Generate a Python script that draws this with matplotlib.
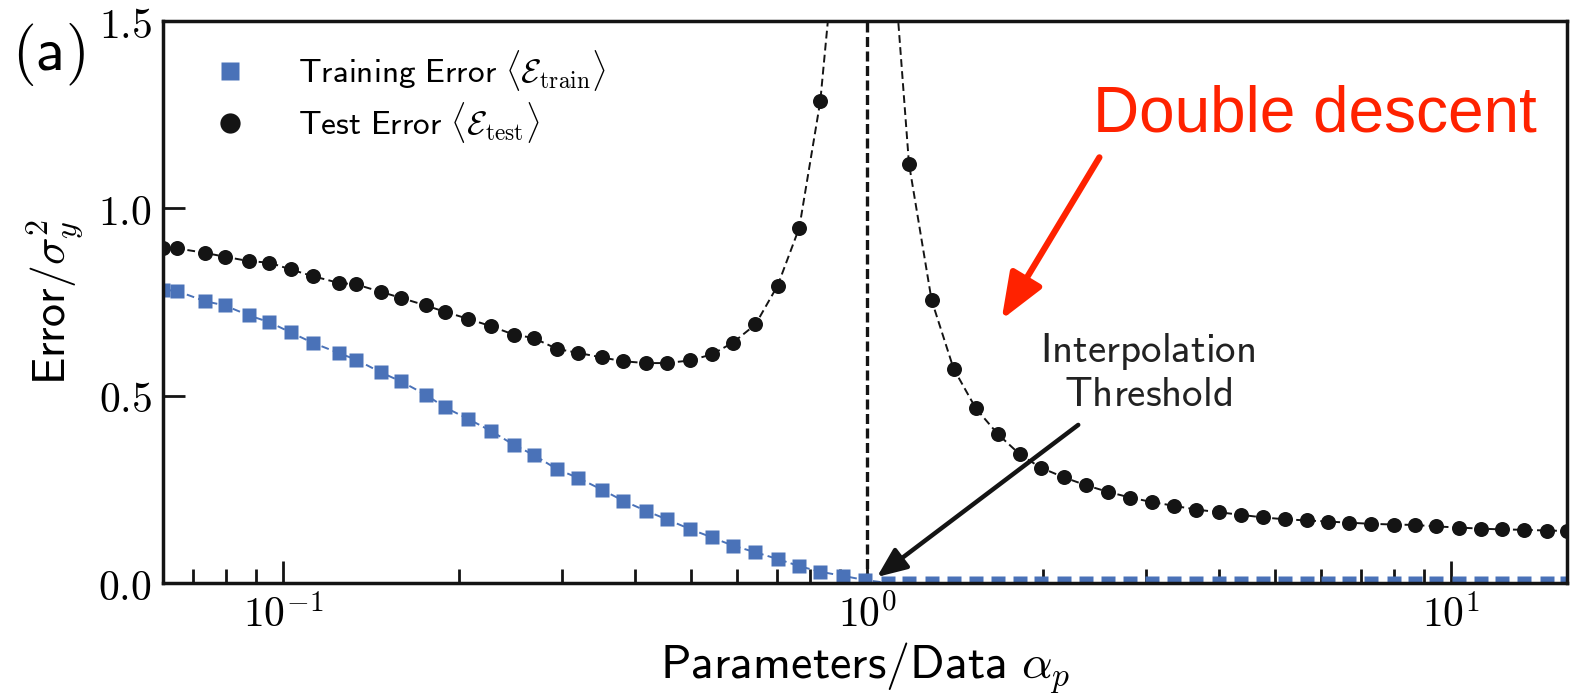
import matplotlib
matplotlib.use("Agg")
import matplotlib.pyplot as plt
from matplotlib.ticker import FixedLocator, FixedFormatter, LogLocator, NullFormatter

plt.rcParams['mathtext.fontset'] = 'cm'

# ---- data ----
test_left_alpha = [0.0624, 0.0659, 0.0736, 0.0794, 0.0875, 0.0948, 0.1030, 0.1125, 0.1245, 0.1334,
                   0.1472, 0.1592, 0.1754, 0.1892, 0.2075, 0.2275, 0.2483, 0.2685, 0.2944, 0.3206,
                   0.3516, 0.3819, 0.4178, 0.4539, 0.4977, 0.5420, 0.5888, 0.6442, 0.7031, 0.7656, 0.8318]
test_left_err = [0.895, 0.893, 0.881, 0.871, 0.859, 0.855, 0.837, 0.819, 0.801, 0.797,
                 0.777, 0.761, 0.741, 0.724, 0.705, 0.685, 0.663, 0.654, 0.625, 0.614,
                 0.602, 0.592, 0.587, 0.587, 0.594, 0.610, 0.641, 0.690, 0.794, 0.948, 1.286]

test_right_alpha = [1.180, 1.290, 1.407, 1.536, 1.676, 1.828, 1.983, 2.173, 2.371, 2.588,
                    2.825, 3.076, 3.357, 3.664, 3.999, 4.365, 4.764, 5.200, 5.657, 6.161,
                    6.693, 7.282, 7.991, 8.670, 9.419, 10.33, 11.25, 12.23, 13.35, 14.58, 15.77]
test_right_err = [1.119, 0.755, 0.572, 0.466, 0.397, 0.343, 0.308, 0.282, 0.261, 0.243,
                  0.228, 0.216, 0.206, 0.196, 0.189, 0.182, 0.175, 0.170, 0.167, 0.164,
                  0.161, 0.158, 0.156, 0.155, 0.151, 0.148, 0.145, 0.143, 0.142, 0.140, 0.139]

near_one_alpha = [0.910, 0.991, 1.086]
train_left_err = [0.783, 0.779, 0.752, 0.741, 0.714, 0.696, 0.669, 0.641, 0.614, 0.596,
                  0.562, 0.538, 0.503, 0.469, 0.438, 0.405, 0.369, 0.342, 0.304, 0.280,
                  0.249, 0.220, 0.193, 0.170, 0.144, 0.122, 0.100, 0.082, 0.064, 0.045, 0.030]
train_near_one_err = [0.019, 0.008, 0.0]
train_right_err = [0.0] * len(test_right_alpha)

# theory curve continues past the top of the frame near the divergence
curve_top_left_alpha = [0.857, 0.866]
curve_top_left_err = [1.50, 1.62]
curve_top_right_alpha = [1.124, 1.131]
curve_top_right_err = [1.62, 1.50]

threshold_alpha = 1.0

x_ticks = [0.1, 1.0, 10.0]
x_tick_labels = [r'$10^{-1}$', r'$10^{0}$', r'$10^{1}$']
y_ticks = [0.0, 0.5, 1.0, 1.5]
y_tick_labels = [r'$0.0$', r'$0.5$', r'$1.0$', r'$1.5$']

# ---- assemble series ----
train_alpha = test_left_alpha + near_one_alpha + test_right_alpha
train_err = train_left_err + train_near_one_err + train_right_err
test_alpha = test_left_alpha + test_right_alpha
test_err = test_left_err + test_right_err
theory_left_alpha = test_left_alpha + curve_top_left_alpha
theory_left_err = test_left_err + curve_top_left_err
theory_right_alpha = curve_top_right_alpha + test_right_alpha
theory_right_err = curve_top_right_err + test_right_err

black = '#141414'
blue = '#4a72b8'
red = '#ff2200'

fig = plt.figure(figsize=(15.7, 6.99), dpi=100)
ax = fig.add_axes([163 / 1570, 116 / 699, 1404 / 1570, 562 / 699])

dash = (4.0, 2.2)
ax.plot(theory_left_alpha, theory_left_err, color=black, lw=1.4, dashes=dash, zorder=2)
ax.plot(theory_right_alpha, theory_right_err, color=black, lw=1.4, dashes=dash, zorder=2)
ax.plot(train_alpha, train_err, color=blue, lw=1.4, dashes=dash, zorder=2)
ax.axvline(threshold_alpha, color=black, lw=2.4, dashes=(3.0, 1.35), zorder=2)

ax.plot(train_alpha, train_err, ls='none', marker='s', ms=10, color=blue, mec='none', zorder=3,
        label=r'$\mathsf{Training\ Error}\ \langle\mathcal{E}_{\mathrm{train}}\rangle$')
ax.plot(test_alpha, test_err, ls='none', marker='o', ms=10.8, color=black, mec='none', zorder=4,
        label=r'$\mathsf{Test\ Error}\ \langle\mathcal{E}_{\mathrm{test}}\rangle$')

ax.set_xscale('log')
ax.set_xlim(0.0623, 15.8)
ax.set_ylim(0, 1.5)
ax.xaxis.set_major_locator(FixedLocator(x_ticks))
ax.xaxis.set_major_formatter(FixedFormatter(x_tick_labels))
ax.xaxis.set_minor_locator(LogLocator(base=10, subs=[2, 3, 4, 5, 6, 7, 8, 9]))
ax.xaxis.set_minor_formatter(NullFormatter())
ax.set_yticks(y_ticks)
ax.set_yticklabels(y_tick_labels)
ax.tick_params(which='both', direction='in', top=False, right=False, width=2.0,
               color=black, labelsize=30, pad=8)
ax.tick_params(which='major', length=16)
ax.tick_params(which='minor', length=10)
for s in ax.spines.values():
    s.set_linewidth(2.5)
    s.set_color(black)
    s.set_zorder(5)

ax.set_xlabel(r'$\mathsf{Parameters}/\mathsf{Data}\ \alpha_p$', fontsize=34.5, va='center')
ax.xaxis.set_label_coords(0.5, -0.152)
ax.set_ylabel(r'$\mathsf{Error}/\sigma_y^2$', fontsize=33, va='center')
ax.yaxis.set_label_coords(-0.077, 0.5)

ax.legend(loc='upper left', bbox_to_anchor=(0.0264, 0.976), frameon=False, fontsize=24,
          handlelength=1.0, handletextpad=1.55, labelspacing=0.22, borderaxespad=0,
          markerscale=1.35)

fig.text(48 / 1570, 1 - 55 / 699, r'$\mathsf{(a)}$', fontsize=44, ha='center', va='center')
fig.text(1093 / 1570, 1 - 132 / 699, 'Double descent', color=red, fontsize=46,
         family='Liberation Sans', ha='left', va='baseline')

ax.annotate('', xy=(1.70, 0.703), xytext=(2.50, 1.136),
            arrowprops=dict(arrowstyle='-|>,head_length=1.4,head_width=0.55', color=red, lw=4.5,
                            mutation_scale=20, shrinkA=0, shrinkB=0))
ax.annotate('', xy=(1.04, 0.016), xytext=(2.30, 0.422),
            arrowprops=dict(arrowstyle='-|>,head_length=0.9,head_width=0.38', color=black, lw=3.2,
                            mutation_scale=20, shrinkA=0, shrinkB=0))
ax.text(3.03, 0.561, '$\\mathsf{Interpolation}$\n$\\mathsf{Threshold}$', ha='center', va='center',
        fontsize=29.5, linespacing=1.1, color='#222222')

fig.savefig('out.png', dpi=100)
